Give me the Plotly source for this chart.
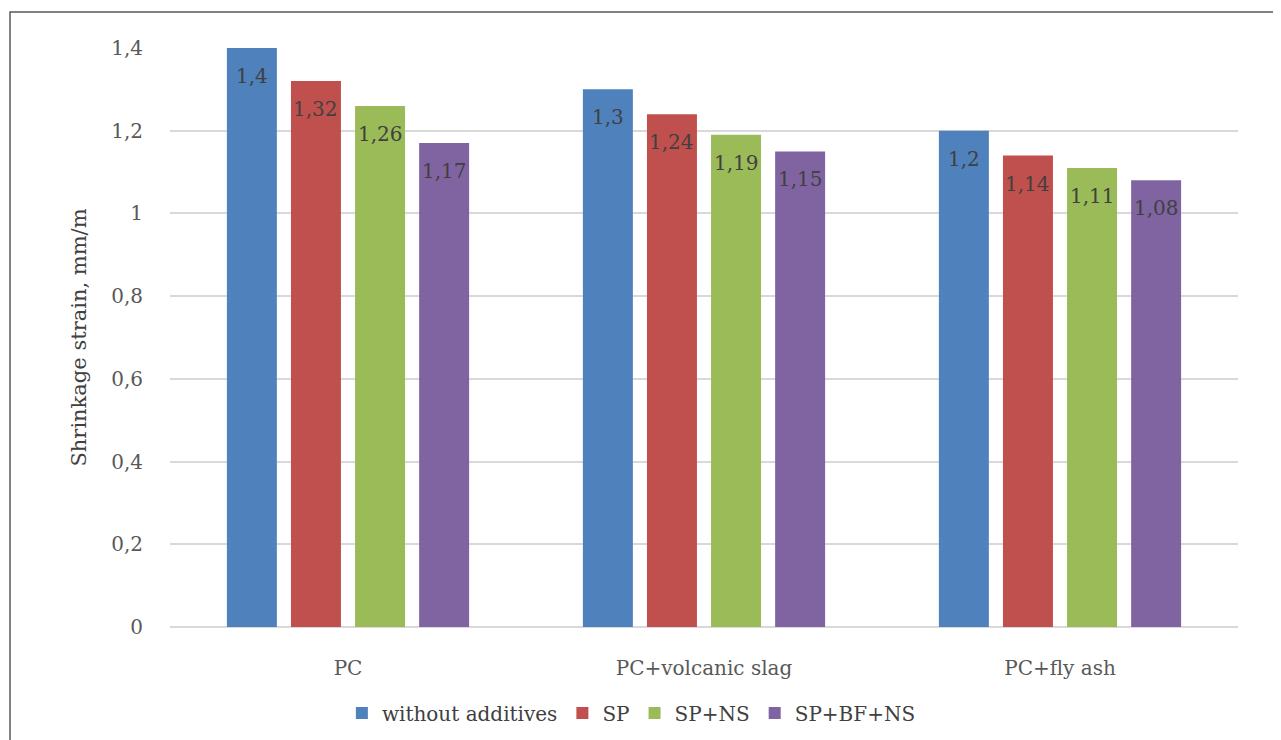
import plotly.graph_objects as go

categories = ["PC", "PC+volcanic slag", "PC+fly ash"]
series_names = ["without additives", "SP", "SP+NS", "SP+BF+NS"]
without_additives = [1.4, 1.3, 1.2]
sp = [1.32, 1.24, 1.14]
sp_ns = [1.26, 1.19, 1.11]
sp_bf_ns = [1.17, 1.15, 1.08]
y_ticks = [0, 0.2, 0.4, 0.6, 0.8, 1.0, 1.2, 1.4]
y_tick_labels = ["0", "0,2", "0,4", "0,6", "0,8", "1", "1,2", "1,4"]

colors = ["#4f81bd", "#c0504d", "#9bbb59", "#8064a2"]
series_values = [without_additives, sp, sp_ns, sp_bf_ns]

FONT = "DejaVu Serif"
BARGAP = 0.28
BARGROUPGAP = 0.22

fig = go.Figure()
for name, vals, col in zip(series_names, series_values, colors):
    fig.add_trace(go.Bar(name=name, x=categories, y=vals, marker_color=col,
                         marker_line_width=0))

# value labels placed inside bars near the top
n = len(series_values)
slot = (1 - BARGAP) / n
annotations = []
for i, vals in enumerate(series_values):
    off = (i - (n - 1) / 2) * slot
    for j, v in enumerate(vals):
        annotations.append(dict(x=j + off, y=v, xref="x", yref="y",
                                text=f"{v:g}".replace(".", ","), showarrow=False,
                                yanchor="top", yshift=-14,
                                font=dict(family=FONT, size=20, color="#404040")))

fig.update_layout(
    width=1273, height=770,
    margin=dict(l=162, r=43, t=40, b=151),
    paper_bgcolor="white", plot_bgcolor="white",
    barmode="group", bargap=BARGAP, bargroupgap=BARGROUPGAP,
    font=dict(family=FONT, size=20, color="#595959"),
    showlegend=True,
    legend=dict(orientation="h", x=0.432, xanchor="center", y=-0.115, yanchor="top",
                font=dict(family=FONT, size=20, color="#404040"), traceorder="normal"),
    annotations=annotations,
    shapes=[dict(type="rect", xref="paper", yref="paper",
                 x0=-0.1498, x1=1.05, y0=-0.35, y1=1.0622,
                 line=dict(color="#595959", width=1.5), fillcolor="rgba(0,0,0,0)",
                 layer="above")],
)
fig.update_xaxes(showgrid=False, showline=False, ticks="",
                 tickfont=dict(family=FONT, size=20, color="#595959"),
                 ticklabelstandoff=27)
fig.update_yaxes(range=[0, 1.4], tickvals=y_ticks, ticktext=y_tick_labels,
                 showgrid=True, gridcolor="#d9d9d9", gridwidth=1.5,
                 zeroline=True, zerolinecolor="#d9d9d9", zerolinewidth=1.5,
                 showline=False, ticks="", ticklabelstandoff=26,
                 tickfont=dict(family=FONT, size=20, color="#595959"),
                 title=dict(text="Shrinkage strain, mm/m", standoff=18,
                            font=dict(family=FONT, size=21, color="#404040")))

fig.write_html("out.html")
